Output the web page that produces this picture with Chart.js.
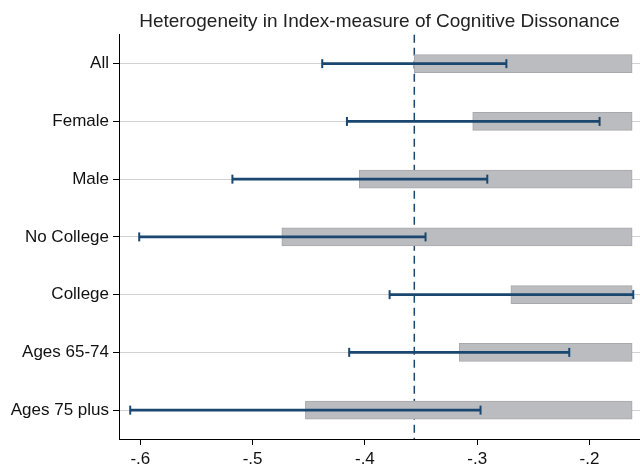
<!DOCTYPE html>
<html>
<head>
<meta charset="utf-8">
<script src="https://cdn.jsdelivr.net/npm/chart.js@4/dist/chart.umd.min.js"></script>
<style>
  html, body { margin: 0; padding: 0; background: #fff; }
  #wrap { width: 640px; height: 466px; }
</style>
</head>
<body>
<div id="wrap"><canvas id="chart"></canvas></div>
<script>
const groups = ['All', 'Female', 'Male', 'No College', 'College', 'Ages 65-74', 'Ages 75 plus'];
const estimates = [-0.356, -0.304, -0.405, -0.474, -0.270, -0.316, -0.453];
const ciLow = [-0.438, -0.416, -0.518, -0.601, -0.378, -0.414, -0.609];
const ciHigh = [-0.274, -0.191, -0.291, -0.346, -0.161, -0.218, -0.297];
const barBase = -0.162;
const overall = -0.356;
const xTicks = [-0.6, -0.5, -0.4, -0.3, -0.2];

const NAVY = '#1a476f';
const FONT = "'Liberation Sans', Arial, sans-serif";

// dashed reference line at the overall estimate, behind the bars
const refLine = {
    id: 'refLine',
    beforeDatasetsDraw(chart) {
        const { ctx, chartArea, scales } = chart;
        const x = scales.x.getPixelForValue(overall);
        ctx.save();
        ctx.strokeStyle = NAVY;
        ctx.lineWidth = 1.5;
        ctx.setLineDash([8, 5]);
        ctx.beginPath();
        ctx.moveTo(x, chartArea.top);
        ctx.lineTo(x, chartArea.bottom);
        ctx.stroke();
        ctx.restore();
    }
};

const caps = [];
groups.forEach((g, i) => {
    caps.push({ x: ciLow[i], y: g });
    caps.push({ x: ciHigh[i], y: g });
});

new Chart(document.getElementById('chart'), {
    type: 'bar',
    data: {
        labels: groups,
        datasets: [
            {
                type: 'scatter',
                data: caps,
                pointStyle: 'line',
                rotation: 90,
                radius: 4.5,
                borderColor: NAVY,
                borderWidth: 2,
                clip: false,
                order: 0
            },
            {
                data: groups.map((g, i) => [ciLow[i], ciHigh[i]]),
                backgroundColor: NAVY,
                borderWidth: 0,
                barThickness: 2.2,
                grouped: false,
                order: 1
            },
            {
                data: estimates.map(v => [v, barBase]),
                backgroundColor: '#bbbcc0',
                borderColor: '#a8a9ad',
                borderWidth: 1,
                borderSkipped: false,
                barThickness: 18,
                grouped: false,
                order: 2
            }
        ]
    },
    options: {
        indexAxis: 'y',
        responsive: true,
        maintainAspectRatio: false,
        animation: false,
        layout: { padding: 0, autoPadding: false },
        plugins: {
            legend: { display: false },
            tooltip: { enabled: false },
            title: {
                display: true,
                fullSize: false,
                text: 'Heterogeneity in Index-measure of Cognitive Dissonance',
                color: '#222',
                font: { family: FONT, size: 19, weight: 'normal' },
                padding: { top: 10, bottom: 2 }
            }
        },
        scales: {
            x: {
                type: 'linear',
                min: -0.619,
                max: -0.155,
                afterBuildTicks(scale) {
                    scale.ticks = xTicks.map(v => ({ value: v }));
                },
                afterFit(scale) {
                    scale.height = 27;
                    scale.paddingLeft = 0;
                    scale.paddingRight = 0;
                },
                grid: { drawOnChartArea: false, tickLength: 6, tickColor: '#000' },
                border: { color: '#000', width: 1 },
                ticks: {
                    color: '#111',
                    padding: 4,
                    font: { family: FONT, size: 17 },
                    callback: v => v.toFixed(1).replace('0.', '.')
                }
            },
            y: {
                type: 'category',
                afterFit(scale) { scale.width = 119; },
                grid: { offset: false, color: '#d2d2d2', lineWidth: 1, tickLength: 6, tickColor: '#000' },
                border: { color: '#000', width: 1 },
                ticks: {
                    color: '#111',
                    padding: 4,
                    font: { family: FONT, size: 17 }
                }
            }
        }
    },
    plugins: [refLine]
});
</script>
</body>
</html>
